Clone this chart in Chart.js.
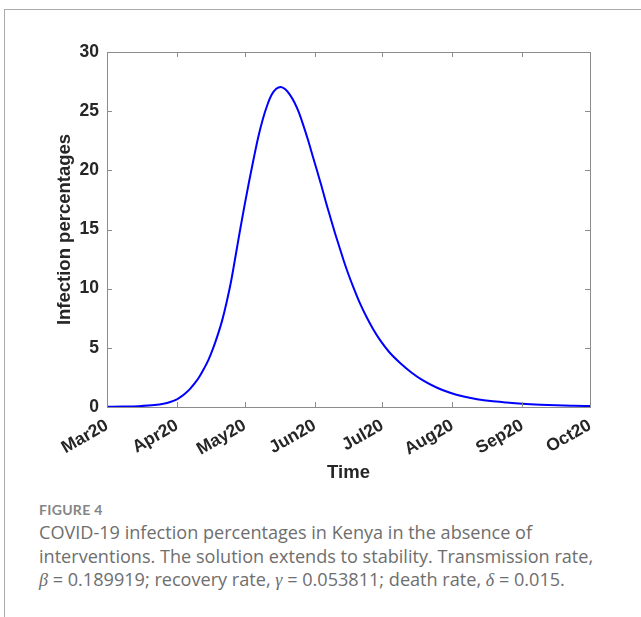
<!DOCTYPE html>
<html>
<head>
<meta charset="utf-8">
<script src="https://cdn.jsdelivr.net/npm/chart.js@4.4.1/dist/chart.umd.min.js"></script>
<style>
  body { margin: 0; background: #fff; }
  #frame { position: absolute; left: 4px; top: 9px; width: 660px; height: 640px;
           border-top: 1px solid #ababab; border-left: 1px solid #ababab; }
  #myChart { position: absolute; left: 0; top: 0; }
  .cap { position: absolute; left: 39px; font-family: "Open Sans", Lato, sans-serif; color: #6e6e6e; }
  #figno { top: 501px; font-family: Lato, sans-serif; font-size: 14px; font-weight: bold; color: #858585; letter-spacing: 0.3px; }
  #captext { top: 521px; font-size: 18.1px; line-height: 23.6px; width: 610px; white-space: nowrap; }
  .gk { font-family: "Liberation Serif", serif; font-style: italic; }
</style>
</head>
<body>
<div id="frame"></div>
<canvas id="myChart" width="641" height="490"></canvas>
<div class="cap" id="figno">FIGURE 4</div>
<div class="cap" id="captext">COVID-19 infection percentages in Kenya in the absence of<br>interventions. The solution extends to stability. Transmission rate,<br><span class="gk">β</span> = 0.189919; recovery rate, <span class="gk">γ</span> = 0.053811; death rate, <span class="gk">δ</span> = 0.015.</div>
<script>
// days counted from 1 March 2020
let days = [0, 7, 14, 21, 25, 28, 31, 33, 35, 37, 39, 41, 43, 45, 47, 49, 51, 53, 55, 57,
  59, 61, 63, 65, 67, 69, 71, 73, 75, 77, 79, 81, 83, 85, 87, 89, 91, 93, 95, 97,
  99, 101, 103, 105, 107, 109, 112, 115, 118, 121, 125, 130, 135, 140, 146, 152, 158, 164, 170, 177,
  184, 192, 199, 207, 214];
let infected = [0.02, 0.035, 0.07, 0.16, 0.27, 0.42, 0.65, 0.9, 1.2, 1.58, 2.03, 2.58, 3.25, 4.0, 4.95, 6.05, 7.3, 8.85, 10.65, 12.8,
  15.0, 17.1, 19.1, 21.0, 22.8, 24.3, 25.5, 26.4, 26.9, 27.05, 26.85, 26.4, 25.75, 24.9, 23.8, 22.6, 21.3, 20.0, 18.7, 17.3,
  16.0, 14.7, 13.5, 12.3, 11.2, 10.2, 8.8, 7.6, 6.55, 5.65, 4.65, 3.7, 2.9, 2.25, 1.65, 1.2, 0.88, 0.66, 0.5, 0.38,
  0.28, 0.2, 0.15, 0.11, 0.08];

let monthDays = [0, 31, 61, 92, 122, 153, 184, 214];
let monthLabels = ['Mar20', 'Apr20', 'May20', 'Jun20', 'Jul20', 'Aug20', 'Sep20', 'Oct20'];
let yTicks = [0, 5, 10, 15, 20, 25, 30];

let points = days.map((d, i) => ({ x: d, y: infected[i] }));

let tickFont = { family: 'Liberation Sans', weight: 'bold', size: 17.5 };
let titleFont = { family: 'Liberation Sans', weight: 'bold', size: 18.5 };
let textColor = '#262626';
let axisColor = '#8c8c8c';

// MATLAB style box with inward ticks
let boxPlugin = {
  id: 'box',
  afterDraw(chart) {
    let ctx = chart.ctx;
    let a = chart.chartArea;
    let xs = chart.scales.x, ys = chart.scales.y;
    ctx.save();
    ctx.strokeStyle = axisColor;
    ctx.lineWidth = 1;
    ctx.strokeRect(a.left + 0.5, a.top + 0.5, a.right - a.left, a.bottom - a.top);
    ctx.beginPath();
    xs.ticks.forEach(t => {
      let px = Math.round(xs.getPixelForValue(t.value)) + 0.5;
      ctx.moveTo(px, a.bottom); ctx.lineTo(px, a.bottom - 5);
      ctx.moveTo(px, a.top); ctx.lineTo(px, a.top + 5);
    });
    ys.ticks.forEach(t => {
      let py = Math.round(ys.getPixelForValue(t.value)) + 0.5;
      ctx.moveTo(a.left, py); ctx.lineTo(a.left + 5, py);
      ctx.moveTo(a.right, py); ctx.lineTo(a.right - 5, py);
    });
    ctx.stroke();
    ctx.restore();
  }
};

let mychart = document.getElementById('myChart');

let chart = new Chart(mychart, {
  type: 'line',
  data: {
    datasets: [{
      data: points,
      borderColor: '#0000ff',
      borderWidth: 2,
      pointRadius: 0,
      fill: false,
      cubicInterpolationMode: 'monotone'
    }]
  },
  options: {
    responsive: false,
    animation: false,
    devicePixelRatio: 1,
    layout: { padding: { top: 52, right: 51, left: 0, bottom: 0 } },
    plugins: { legend: { display: false }, tooltip: { enabled: false } },
    scales: {
      x: {
        type: 'linear',
        min: 0,
        max: 214,
        grid: { display: false, drawTicks: false },
        border: { display: false },
        afterBuildTicks: s => { s.ticks = monthDays.map(v => ({ value: v })); },
        afterFit: s => { s.height = 83; },
        ticks: {
          autoSkip: false,
          minRotation: 30,
          maxRotation: 30,
          padding: 8,
          color: textColor,
          font: tickFont,
          callback: (v, i) => monthLabels[i]
        },
        title: {
          display: true,
          text: 'Time',
          color: textColor,
          font: titleFont,
          padding: { top: 0, bottom: 6 }
        }
      },
      y: {
        min: 0,
        max: 30,
        grid: { display: false, drawTicks: false },
        border: { display: false },
        afterBuildTicks: s => { s.ticks = yTicks.map(v => ({ value: v })); },
        afterFit: s => { s.width = 107; },
        ticks: {
          padding: 8,
          color: textColor,
          font: tickFont
        },
        title: {
          display: true,
          text: 'Infection percentages',
          color: textColor,
          font: titleFont,
          padding: { top: 54, bottom: 0 }
        }
      }
    }
  },
  plugins: [boxPlugin]
});
</script>
</body>
</html>
